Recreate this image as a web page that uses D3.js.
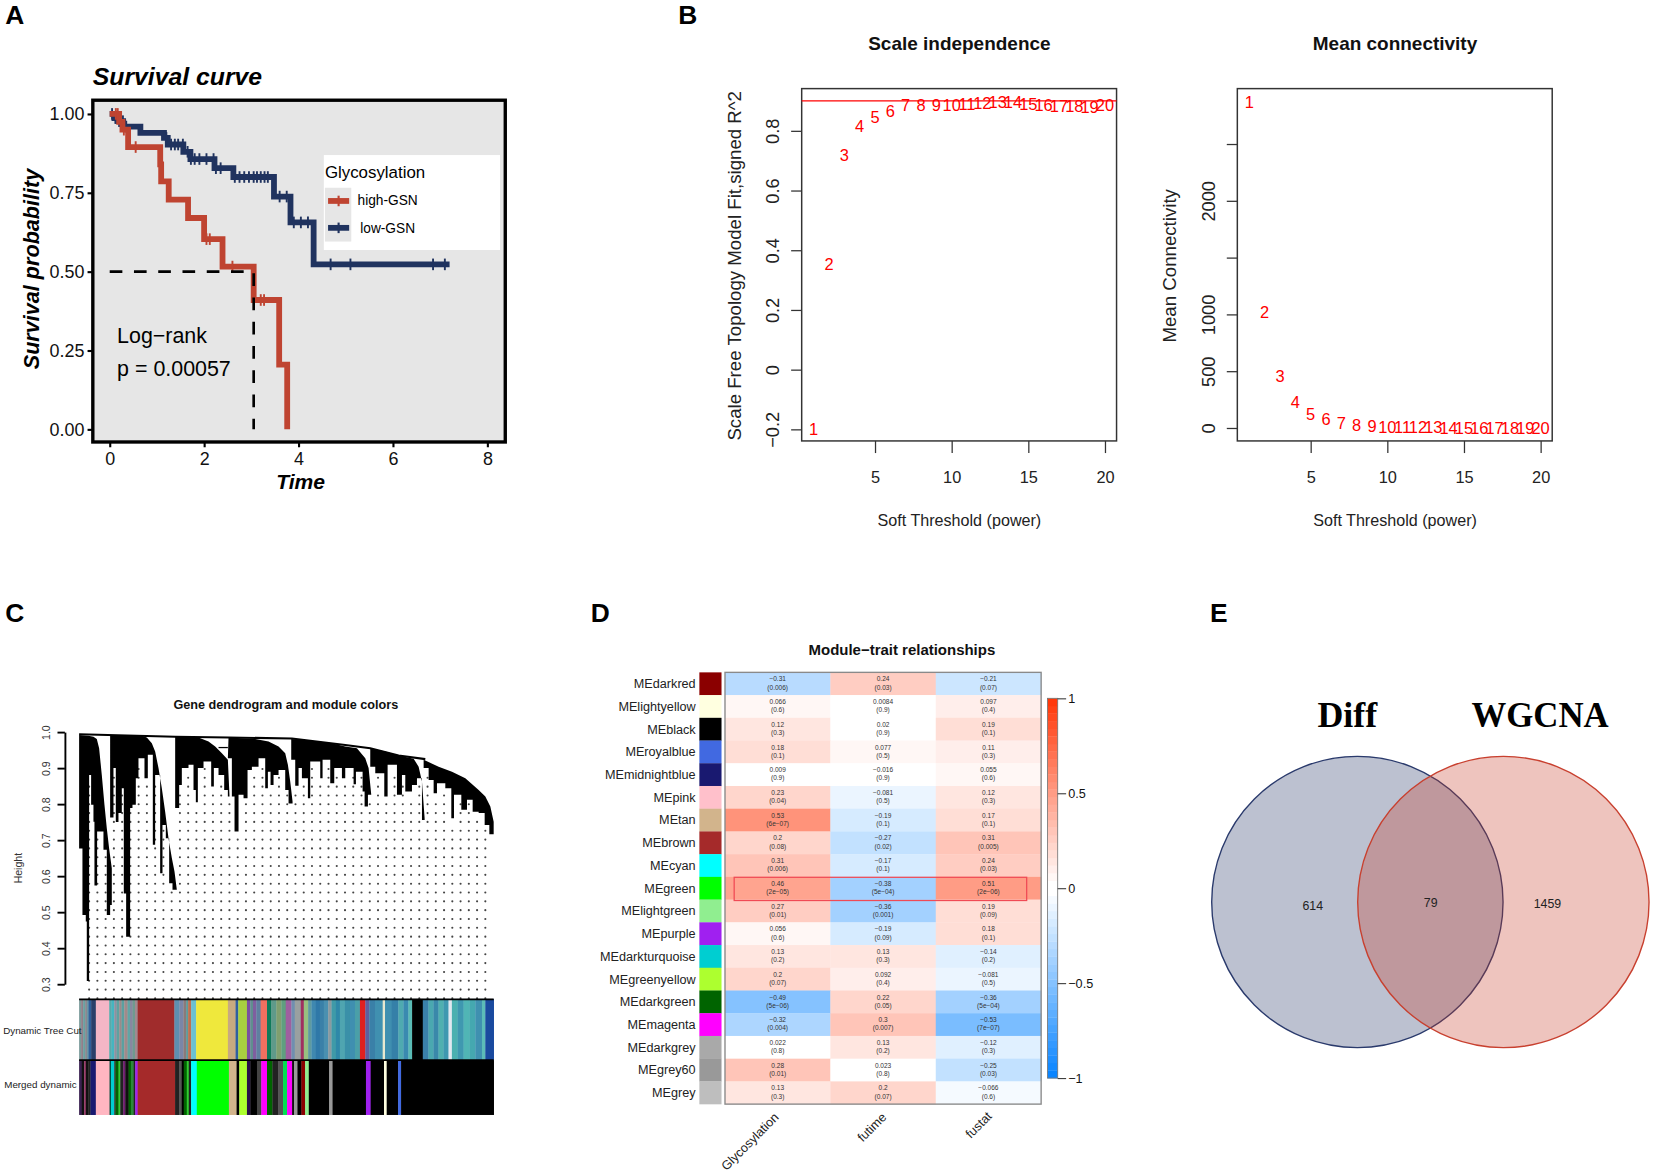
<!DOCTYPE html>
<html><head><meta charset="utf-8">
<script src="https://cdn.jsdelivr.net/npm/d3@7"></script>
<style>
html,body{margin:0;padding:0;background:#fff}
svg{display:block;font-family:"Liberation Sans",Arial,sans-serif}
</style></head><body>
<svg id="fig" width="1654" height="1173" viewBox="0 0 1568 1112"></svg>
<script>
// ---------- Panel A: survival curve
const highTime=[0,0.2,0.27,0.39,1.07,1.09,1.25,1.66,2.0,2.39,3.05,3.59,3.76];
const highSurv=[1,0.975,0.95,0.895,0.84,0.786,0.728,0.67,0.603,0.516,0.41,0.205,0];
const highEnd=3.76;
const highCensor=[0.13,0.17,0.3,0.55,2.05,2.12,2.6,3.2,3.27];
const lowTime=[0,0.1,0.18,0.285,0.65,1.15,1.23,1.56,1.71,2.22,2.62,3.48,3.83,4.32];
const lowSurv=[1,0.987,0.977,0.96,0.94,0.924,0.903,0.88,0.857,0.828,0.80,0.738,0.656,0.523];
const lowEnd=7.2;
const lowCensor=[0.05,0.12,0.2,0.28,0.35,1.2,1.3,1.38,1.45,1.55,1.65,1.72,1.8,1.9,2.05,2.2,2.25,2.35,2.65,2.75,2.85,2.95,3.05,3.12,3.2,3.28,3.35,3.6,3.75,3.9,4.05,4.2,4.68,5.1,6.85,7.1];
const survXTicks=[0,2,4,6,8];
const survYTicks=[0,0.25,0.5,0.75,1];
const medianTime=3.05;
const groupNames=["high-GSN","low-GSN"];
const groupColors=["#bf4431","#20335f"];

// ---------- Panel B: soft threshold
const powers=d3.range(1,21);
const scaleFit=[-0.2,0.3525,0.72,0.815,0.847,0.867,0.888,0.888,0.888,0.887,0.89,0.893,0.896,0.895,0.89,0.888,0.884,0.882,0.881,0.887];
const meanConn=[2869,1020,454,227,127,76,48,27,18,12,8,6,5,4,3,3,2,2,1,1];
const fitTicks=[-0.2,0,0.2,0.4,0.6,0.8];
const connTicks=[0,500,1000,1500,2000,2500];
const connLabelled=[0,500,1000,2000];
const powerTicks=[5,10,15,20];
const fitCut=0.9;

// ---------- Panel C: dendrogram canopy (leaf position, merge height)
const canopyTopLeaf=[
 [12,40,55,65,72,80,88,95,102,110],
 [105,200,215,230,240,250,260,270,280,290,298,305],
 [300,370,400,420,440,458],
 [460,500,540,580,610,630,638,645,652],
 [648,690,730,770,810,845,870,880,888],
 [885,930,970,1015,1030,1040,1048],
 [1045,1090,1130,1170,1210,1230,1245,1255]];
const canopyTop=[
 [.992,.990,.987,.981,.955,.881,.798,.733,.677,.622],
 [.992,.990,.985,.969,.946,.900,.844,.779,.705,.650,.613,.562],
 [.988,.985,.974,.960,.941,.923],
 [.985,.983,.981,.974,.960,.941,.909,.863,.807],
 [.981,.978,.974,.969,.960,.955,.927,.900,.826],
 [.955,.946,.935,.926,.904,.863,.761],
 [.923,.904,.890,.872,.839,.821,.793,.751]];
const canopyBottomLeaf=[
 [12,22,32,35,42,48,55,58,66,85,95,105,110],
 [105,115,122,130,140,146,153,165,172,182,190,208,218,233,240,255,262,272,282,292,305],
 [300,312,320,330,340,355,362,368,385,408,416,430,447,458,463],
 [458,470,478,490,505,517,530,550,570,578,586,595,610,630,640,652],
 [648,660,670,680,698,705,735,742,765,777,800,810,835,842,862,868,878,888],
 [885,900,927,937,965,980,990,1000,1010,1025,1040,1048],
 [1045,1060,1075,1085,1110,1128,1136,1158,1175,1192,1210,1228,1242,1255]];
const canopyBottom=[
 [.677,.492,.474,.309,.881,.798,.751,.574,.724,.673,.492,.520,.622],
 [.763,.900,.750,.775,.844,.552,.432,.789,.798,.872,.927,.872,.937,.687,.881,.608,.742,.705,.580,.562,.562],
 [.789,.853,.900,.900,.909,.839,.805,.900,.918,.849,.900,.881,.839,.821,.821],
 [.927,.821,.724,.826,.816,.895,.904,.927,.844,.890,.853,.881,.895,.839,.802,.802],
 [.923,.851,.900,.872,.816,.918,.872,.923,.858,.900,.872,.900,.855,.890,.835,.793,.826,.821],
 [.904,.886,.821,.909,.826,.881,.835,.835,.853,.872,.756,.756],
 [.900,.867,.830,.858,.844,.761,.826,.784,.812,.779,.775,.742,.716,.716]];
const trunkLeaf=[12,300,460,650,810,885,970,1050];
const trunkHeight=[.994,.987,.985,.982,.964,.955,.935,.925];
const bridgeLeaf=[430,458];
const bridgeHeight=[.957,.957];
const heightTicks=[.3,.4,.5,.6,.7,.8,.9,1];
const guideColumns=d3.range(49);
const guideRows=d3.range(31);
const treeCutEdges=[240,246,252,258,264,268,276,290,330,337,345,352,360,367,375,385,392,400,407,415,525,540,552,560,566,575,590,685,708,716,742,752,760,770,783,802,815,830,845,858,875,885,903,912,925,935,948,960,972,985,995,1008,1020,1035,1050,1065,1080,1096,1108,1125,1148,1155,1175,1195,1210,1225,1236,1268,1285,1300,1315,1330,1345,1355,1372,1390,1408,1425,1445,1455,1480];
const treeCutColors=["#7a9a9a","#8f7f8a","#6aa0a0","#88888f","#5e8fa0","#2f5f9a","#2a3f6a","#f4b6c6","#5aa9a9","#45b5c0","#8f8f9f","#60a0a0","#9a8a8a","#5aa0a0","#a08a8a","#60a5a5","#8888a0","#6f9a8f","#a08a90","#a02c2c","#5f8fb0","#7a86a8","#8a7a7a","#5f9a9a","#c0704f","#6cc0d0","#efe83c","#c8aa80","#2f5fa0","#a8d040","#7a50a0","#5f8f8f","#7f5f9f","#5f7fa0","#f07060","#0f7a5a","#5f9a8a","#7f9f6f","#5f9f7f","#9f5f9f","#6f8fb0","#9aa0a0","#a03060","#98c080","#5f9aa0","#3f88b0","#2f78a8","#3a80a8","#4a90b0","#8a9aa0","#3f9aa8","#2f88a8","#4fa5b0","#3a90a8","#3f8fb0","#4a9fa8","#e02020","#5f5fa0","#3a80a8","#4090b0","#e8e8d0","#3f8fb0","#3580a8","#4faab0","#3a8ab0","#5abbb5","#000000","#3a80aa","#4aa8b0","#3a88aa","#50b0b0","#3f98b0","#e0e8f0","#4ab0b0","#3f98b0","#50b5b5","#45a8b0","#3f90b0","#5cbcb8","#1a4a9f"];
const mergedEdges=[240,248,255,260,268,274,290,331,335,345,349,358,363,372,378,388,395,403,408,415,527,540,547,553,562,568,575,592,688,711,719,742,752,772,785,802,818,835,850,862,877,883,893,905,916,927,988,998,1098,1112,1152,1160,1194,1203,1480];
const mergedColors=["#3a2050","#111111","#9a3a6a","#111111","#222222","#191970","#ffb6c1","#004030","#00ced1","#333333","#006400","#32cd32","#222222","#701a70","#111111","#006400","#2a8a3a","#222222","#a020f0","#a52a2a","#222222","#555555","#000000","#006400","#32cd32","#222222","#00ffff","#00ff00","#d2b48c","#000000","#adff2f","#2a104a","#000000","#444444","#ff00ff","#006400","#222222","#555555","#00e050","#ff00ff","#111111","#999999","#000000","#8b0000","#90ee90","#000000","#999999","#000000","#a020f0","#000000","#ffffe0","#000000","#4169e1","#000000"];

// ---------- Panel D: module-trait heatmap
const modules=["MEdarkred","MElightyellow","MEblack","MEroyalblue","MEmidnightblue","MEpink","MEtan","MEbrown","MEcyan","MEgreen","MElightgreen","MEpurple","MEdarkturquoise","MEgreenyellow","MEdarkgreen","MEmagenta","MEdarkgrey","MEgrey60","MEgrey"];
const moduleColors=["#8b0000","#ffffe0","#000000","#4169e1","#191970","#ffc0cb","#d2b48c","#a52a2a","#00ffff","#00ff00","#90ee90","#a020f0","#00ced1","#adff2f","#006400","#ff00ff","#a9a9a9","#999999","#bebebe"];
const traits=["Glycosylation","futime","fustat"];
const rGlyco=[-0.31,0.066,0.12,0.18,0.009,0.23,0.53,0.2,0.31,0.46,0.27,0.056,0.13,0.2,-0.49,-0.32,0.022,0.28,0.13];
const rFutime=[0.24,0.0084,0.02,0.077,-0.016,-0.081,-0.19,-0.27,-0.17,-0.38,-0.36,-0.19,0.13,0.092,0.22,0.3,0.13,0.023,0.2];
const rFustat=[-0.21,0.097,0.19,0.11,0.055,0.12,0.17,0.31,0.24,0.51,0.19,0.18,-0.14,-0.081,-0.36,-0.53,-0.12,-0.25,-0.066];
const pGlyco=["0.006","0.6","0.3","0.1","0.9","0.04","6e-07","0.08","0.006","2e-05","0.01","0.6","0.2","0.07","5e-06","0.004","0.8","0.01","0.3"];
const pFutime=["0.03","0.9","0.9","0.5","0.9","0.5","0.1","0.02","0.1","5e-04","0.001","0.09","0.3","0.4","0.05","0.007","0.2","0.8","0.07"];
const pFustat=["0.07","0.4","0.1","0.3","0.6","0.3","0.1","0.005","0.03","2e-06","0.09","0.1","0.2","0.5","5e-04","7e-07","0.3","0.03","0.6"];
const legendTicks=[-1,-0.5,0,0.5,1];
const highlightModule="MEgreen";

// ---------- Panel E: Venn
const vennNames=["Diff","WGCNA"];
const vennCounts=[614,79,1459];

const svg=d3.select("#fig");
const minus=s=>String(s).replace(/-/g,"\u2212");
const txt=(g,x,y,s,size,o={})=>g.append("text").attr("x",x).attr("y",y).attr("font-size",size)
  .attr("font-weight",o.w||null).attr("font-style",o.i||null).attr("text-anchor",o.a||"start")
  .attr("fill",o.f||"#000").attr("font-family",o.ff||null).attr("transform",o.t||null).text(s);

// panel letters
[["A",5,23],["B",643,23],["C",5,590],["D",560,590],["E",1147,590]].forEach(d=>txt(svg,d[1],d[2],d[0],25,{w:"bold"}));

// ===== A =====
{
 const g=svg.append("g");
 const L=88,R=479,T=95,B=419;
 const x=d3.scaleLinear().domain([0,8]).range([104,462]);
 const y=d3.scaleLinear().domain([0,1]).range([407,108]);
 g.append("rect").attr("x",L).attr("y",T).attr("width",R-L).attr("height",B-T).attr("fill","#e6e6e6");
 const lg=g.append("g");
 lg.append("rect").attr("x",307).attr("y",147).attr("width",167).attr("height",90).attr("fill","#fff");
 lg.append("rect").attr("x",308).attr("y",178).attr("width",25).attr("height",51).attr("fill","#e6e6e6");
 txt(lg,308,169,"Glycosylation",16);
 groupNames.forEach((n,i)=>{
  const yy=[190.5,216][i];
  lg.append("line").attr("x1",311).attr("x2",331).attr("y1",yy).attr("y2",yy).attr("stroke",groupColors[i]).attr("stroke-width",5.5);
  lg.append("line").attr("x1",321).attr("x2",321).attr("y1",yy-5).attr("y2",yy+5).attr("stroke",groupColors[i]).attr("stroke-width",2);
  txt(lg,[339,341.5][i],[194.5,220.5][i],n,13);
 });
 const line=d3.line().curve(d3.curveStepAfter).x(d=>x(d[0])).y(d=>y(d[1]));
 const drawCurve=(times,surv,end,cens,col)=>{
  const pts=times.map((t,i)=>[t,surv[i]]).concat([[end,surv[surv.length-1]]]);
  g.append("path").attr("d",line(pts)).attr("fill","none").attr("stroke",col).attr("stroke-width",5.5);
  g.selectAll(null).data(cens).enter().append("line")
   .attr("x1",d=>x(d)).attr("x2",d=>x(d))
   .attr("y1",d=>y(surv[d3.bisectRight(times,d)-1])-5.5)
   .attr("y2",d=>y(surv[d3.bisectRight(times,d)-1])+5.5)
   .attr("stroke",col).attr("stroke-width",1.8);
 };
 drawCurve(lowTime,lowSurv,lowEnd,lowCensor,groupColors[1]);
 drawCurve(highTime,highSurv,highEnd,highCensor,groupColors[0]);
 g.append("path").attr("d",d3.line().x(d=>x(d[0])).y(d=>y(d[1]))([[0,0.5],[medianTime,0.5],[medianTime,0]]))
  .attr("fill","none").attr("stroke","#000").attr("stroke-width",2.5).attr("stroke-dasharray","12 11");
 g.append("rect").attr("x",L).attr("y",T).attr("width",R-L).attr("height",B-T).attr("fill","none").attr("stroke","#000").attr("stroke-width",3.2);
 const ax=g.append("g").attr("transform",`translate(0,${B})`).call(d3.axisBottom(x).tickValues(survXTicks).tickSize(5).tickPadding(5).tickFormat(d3.format("d")));
 const ay=g.append("g").attr("transform",`translate(${L},0)`).call(d3.axisLeft(y).tickValues(survYTicks).tickSize(5).tickPadding(3).tickFormat(d3.format(".2f")));
 [ax,ay].forEach(a=>{a.select(".domain").remove();a.selectAll("line").attr("stroke","#000").attr("stroke-width",2);a.selectAll("text").attr("font-size",17).attr("font-family",'"Liberation Sans"').attr("fill","#111");});
 txt(g,88,80.5,"Survival curve",23.5,{w:"bold",i:"italic"});
 txt(g,285,464,"Time",20,{w:"bold",i:"italic",a:"middle"});
 txt(g,0,0,"Survival probability",20.5,{w:"bold",i:"italic",a:"middle",t:"translate(37,255) rotate(-90)"});
 txt(g,111,325,"Log\u2212rank",20.3);
 txt(g,111,356,"p = 0.00057",20.3);
}

// ===== B =====
function rPanel(L,yDom,yRange,vals,yTicks,yLab,title,yTitle,yTitleX,line){
 const R=L+298.5,T=84,B=418;
 const g=svg.append("g");
 const x=d3.scaleLinear().domain([5,20]).range([L+69.5,L+287.5]);
 const y=d3.scaleLinear().domain(yDom).range(yRange);
 g.append("rect").attr("x",L).attr("y",T).attr("width",R-L).attr("height",B-T).attr("fill","none").attr("stroke","#333").attr("stroke-width",1.4);
 if(line!=null) g.append("line").attr("x1",L).attr("x2",R).attr("y1",y(line)).attr("y2",y(line)).attr("stroke","#f00").attr("stroke-width",1.1);
 const ax=g.append("g").attr("transform",`translate(0,${B})`).call(d3.axisBottom(x).tickValues(powerTicks).tickSize(11.5).tickPadding(17).tickSizeOuter(0));
 const ay=g.append("g").attr("transform",`translate(${L},0)`).call(d3.axisLeft(y).tickValues(yTicks).tickSize(10).tickFormat(d=>yLab.includes(d)?minus(d3.format("~g")(d===0?0:d)):""));
 [ax,ay].forEach(a=>{a.select(".domain").remove();a.selectAll("line").attr("stroke","#333").attr("stroke-width",1.2);a.selectAll("text").attr("font-size",15.5).attr("font-family",'"Liberation Sans"').attr("fill","#222");});
 ay.selectAll("text").attr("x",0).attr("dy",0).attr("text-anchor","middle").attr("font-size",17.3).attr("transform","translate(-21.5,0) rotate(-90)");
 g.selectAll(null).data(powers).enter().append("text").attr("x",d=>x(d)).attr("y",(d,i)=>y(vals[i])+5.7)
  .attr("text-anchor","middle").attr("font-size",15.6).attr("fill","#f00").text(d=>d);
 txt(g,L+149.5,47.5,title,18,{w:"bold",a:"middle",f:"#111"});
 txt(g,L+149.5,499,"Soft Threshold (power)",15.3,{a:"middle",f:"#222"});
 txt(g,0,0,yTitle,17.7,{a:"middle",f:"#222",t:`translate(${yTitleX},252) rotate(-90)`});
}
rPanel(760,[-0.2,0.8],[407,124],scaleFit,fitTicks,fitTicks,"Scale independence","Scale Free Topology Model Fit,signed R^2",702,fitCut);
rPanel(1173,[0,2500],[405.7,136.5],meanConn,connTicks,connLabelled,"Mean connectivity","Mean Connectivity",1115,null);

// ===== C =====
{
 const g=svg.append("g");
 const x=d3.scaleLinear().domain([12,1255]).range([75,468]);
 const xBar=d3.scaleLinear().domain([240,1480]).range([75,468]);
 const y=d3.scaleLinear().domain([.3,1]).range([933,694]);
 const bottomAt=l=>{
  const c=canopyBottomLeaf.findIndex(a=>l>=a[0]&&l<=a[a.length-1]);
  if(c<0) return 1;
  const i=Math.max(d3.bisectRight(canopyBottomLeaf[c],l)-1,0);
  return canopyBottom[c][i];
 };
 const guides=[];
 guideColumns.forEach(c=>guideRows.forEach(r=>{
  const l=42+c*24.75,h=.2605+r*.0245;
  if(h<bottomAt(l)-.012) guides.push([l,h]);
 }));
 g.selectAll(null).data(guides).enter().append("circle").attr("cx",d=>x(d[0])).attr("cy",d=>y(d[1])).attr("r",1).attr("fill","#444");
 const poly=d3.line().x(d=>x(d[0])).y(d=>y(d[1]));
 canopyTopLeaf.forEach((lv,i)=>{
  const pts=lv.map((l,j)=>[l,canopyTop[i][j]]);
  const bl=canopyBottomLeaf[i],bh=canopyBottom[i];
  const step=[];
  bl.forEach((l,j)=>{step.push([l,bh[j]]);step.push([j<bl.length-1?bl[j+1]:l,bh[j]]);});
  g.append("path").attr("d",poly(pts.concat(step.reverse()))+"Z").attr("fill","#000");
 });
 g.append("path").attr("d",poly(trunkLeaf.map((l,i)=>[l,trunkHeight[i]]))).attr("fill","none").attr("stroke","#000").attr("stroke-width",2);
 g.append("path").attr("d",poly(bridgeLeaf.map((l,i)=>[l,bridgeHeight[i]]))).attr("fill","none").attr("stroke","#000").attr("stroke-width",1.2);
 const bands=(edges,cols,y0,y1)=>g.selectAll(null).data(cols).enter().append("rect")
  .attr("x",(d,i)=>xBar(edges[i])).attr("width",(d,i)=>xBar(edges[i+1])-xBar(edges[i])+.3)
  .attr("y",y0).attr("height",y1-y0).attr("fill",d=>d);
 bands(treeCutEdges,treeCutColors,947,1005);
 bands(mergedEdges,mergedColors,1005,1057);
 [947.5,1005].forEach(v=>g.append("line").attr("x1",75).attr("x2",468).attr("y1",v).attr("y2",v).attr("stroke","#000").attr("stroke-width",1.7));
 const ay=g.append("g").attr("transform","translate(61.5,0)").call(d3.axisLeft(y).tickValues(heightTicks).tickSize(7).tickSizeOuter(0).tickFormat(d3.format(".1f")));
 ay.select(".domain").attr("stroke","#000").attr("stroke-width",1.8);
 ay.selectAll("line").attr("stroke","#000").attr("stroke-width",1.8);
 ay.selectAll("text").attr("x",0).attr("dy",0).attr("text-anchor","middle").attr("transform","translate(-14,0) rotate(-90)").attr("font-size",10).attr("font-family",'"Liberation Sans"').attr("fill","#333");
 txt(g,271,672,"Gene dendrogram and module colors",12,{w:"bold",a:"middle",f:"#111"});
 txt(g,0,0,"Height",10,{a:"middle",f:"#333",t:"translate(21,823) rotate(-90)"});
 txt(g,3,980,"Dynamic Tree Cut",9.3,{f:"#222"});
 txt(g,4,1031,"Merged dynamic",9.3,{f:"#222"});
}

// ===== D =====
{
 const g=svg.append("g");
 const x=d3.scaleBand().domain(traits).range([687.3,987]);
 const y=d3.scaleBand().domain(modules).range([637.4,1046.7]);
 const tint=v=>{
  const lvl=Math.floor(Math.abs(v)/0.04+1e-9)*0.04;
  return v>=0?d3.interpolateRgb("#ffffff","#ff3000")(lvl):d3.interpolateRgb("#ffffff","#0080ff")(lvl);
 };
 const rs=[rGlyco,rFutime,rFustat],ps=[pGlyco,pFutime,pFustat];
 const cells=[];
 modules.forEach((m,i)=>traits.forEach((t,j)=>cells.push({m,t,r:rs[j][i],p:ps[j][i]})));
 g.selectAll(null).data(cells).enter().append("rect").attr("x",d=>x(d.t)).attr("y",d=>y(d.m))
  .attr("width",x.bandwidth()+.3).attr("height",y.bandwidth()+.3).attr("fill",d=>tint(d.r));
 g.selectAll(null).data(cells).enter().append("text").attr("x",d=>x(d.t)+x.bandwidth()/2).attr("y",d=>y(d.m)+8.6)
  .attr("text-anchor","middle").attr("font-size",6.2).attr("fill","#333").text(d=>minus(d.r));
 g.selectAll(null).data(cells).enter().append("text").attr("x",d=>x(d.t)+x.bandwidth()/2).attr("y",d=>y(d.m)+16.3)
  .attr("text-anchor","middle").attr("font-size",6.2).attr("fill","#333").text(d=>"("+minus(d.p)+")");
 g.append("rect").attr("x",687.3).attr("y",637.4).attr("width",299.7).attr("height",409.3).attr("fill","none").attr("stroke","#8a8a8a").attr("stroke-width",1.3);
 g.selectAll(null).data(modules).enter().append("rect").attr("x",663).attr("width",21).attr("y",d=>y(d)).attr("height",y.bandwidth()+.2).attr("fill",(d,i)=>moduleColors[i]);
 g.selectAll(null).data(modules).enter().append("text").attr("x",659.5).attr("y",d=>y(d)+y.bandwidth()/2+4.2).attr("text-anchor","end").attr("font-size",12).attr("fill","#222").text(d=>d);
 g.append("rect").attr("x",696).attr("y",y(highlightModule)+.4).attr("width",277.3).attr("height",22).attr("fill","none").attr("stroke","#f04a55").attr("stroke-width",1.2);
 traits.forEach((t,i)=>txt(g,0,0,t,12,{a:"end",f:"#222",t:`translate(${[739,841,941][i]},${[1060,1060,1059][i]}) rotate(-45)`}));
 txt(g,855,620.5,"Module\u2212trait relationships",14.2,{w:"bold",a:"middle",f:"#111"});
 const c=d3.scaleLinear().domain([-1,1]).range([1022,662]);
 const lv=d3.range(-1,1,0.04);
 g.selectAll(null).data(lv).enter().append("rect").attr("x",993).attr("width",9.7).attr("y",d=>c(d+.04)).attr("height",c(0)-c(.04)+.3)
  .attr("fill",d=>tint(Math.abs(d+.02)<.04?0:d+.02));
 g.append("rect").attr("x",993).attr("y",662).attr("width",9.7).attr("height",360).attr("fill","none").attr("stroke","#777").attr("stroke-width",.8);
 const ac=g.append("g").attr("transform","translate(1002.7,0)").call(d3.axisRight(c).tickValues(legendTicks).tickSize(8).tickPadding(2).tickFormat(d=>minus(d)));
 ac.select(".domain").remove();
 ac.selectAll("line").attr("stroke","#333").attr("stroke-width",1);
 ac.selectAll("text").attr("font-size",12).attr("font-family",'"Liberation Sans"').attr("fill","#111");
}

// ===== E =====
{
 const g=svg.append("g");
 const xs=d3.scalePoint().domain(vennNames).range([1286.8,1425.2]);
 const fills=["rgba(32,51,100,.3)","rgba(200,60,40,.3)"],strokes=["#2a3a6c","#c8402f"];
 g.selectAll(null).data(vennNames).enter().append("circle").attr("cx",d=>xs(d)).attr("cy",855.1).attr("r",138.1)
  .attr("fill",(d,i)=>fills[i]).attr("stroke",(d,i)=>strokes[i]).attr("stroke-width",1.3);
 vennNames.forEach((n,i)=>txt(g,[1277.3,1460][i],689,n,[34,33][i],{w:"bold",a:"middle",ff:'"Liberation Serif"'}));
 vennCounts.forEach((n,i)=>txt(g,[1244.5,1356.3,1467][i],[862.6,859.4,861][i],n,11.7,{a:"middle",f:"#222"}));
}
</script></body></html>
